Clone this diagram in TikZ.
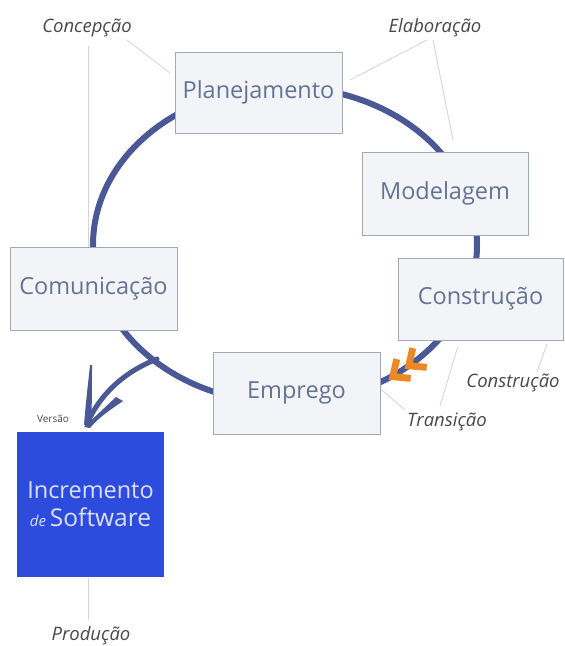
\documentclass[tikz,border=0pt]{standalone}
\usepackage{fontspec}
\setmainfont{Open Sans}
\usetikzlibrary{calc}
\definecolor{loopblue}{RGB}{74,88,150}
\definecolor{boxfill}{RGB}{243,244,247}
\definecolor{boxline}{RGB}{160,168,185}
\definecolor{boxtext}{RGB}{100,114,150}
\definecolor{incrblue}{RGB}{45,76,222}
\definecolor{incrtext}{RGB}{220,224,246}
\definecolor{notegray}{RGB}{72,72,76}
\definecolor{leadgray}{RGB}{212,212,216}
\definecolor{chevron}{RGB}{236,136,38}
\tikzset{
  phasebox/.style={draw=boxline, line width=0.9pt, fill=boxfill, text=boxtext,
    font=\fontsize{23.5}{26}\selectfont, inner sep=0pt},
  note/.style={text=notegray, font=\itshape\fontsize{18.5}{20}\selectfont, inner sep=0pt},
  leader/.style={draw=leadgray, line width=0.8pt},
  loopline/.style={draw=loopblue, line width=6pt},
  feather/.style={fill=chevron},
}
\begin{document}
\begin{tikzpicture}[x=1pt,y=-1pt]
  \fill[white] (0,0) rectangle (565,646);
  \useasboundingbox (0,0) rectangle (565,646);

  % labels of the phases
  \node[note] (concep) at (87,28) {Concepção};
  \node[note] (elab) at (435,28) {Elaboração};
  \node[note] (constrnote) at (513,383) {Construção};
  \node[note] (trans) at (447,422) {Transição};
  \node[note] (prod) at (91,636) {Produção};
  \node[text=notegray, font=\fontsize{10}{11}\selectfont, inner sep=0pt] (versao) at (53,419) {Versão};

  % leader lines
  \coordinate (c1) at (88,46);   \coordinate (c2) at (88,247);
  \coordinate (c3) at (127,40);  \coordinate (c4) at (170,73);
  \coordinate (e1) at (427,40);  \coordinate (e2) at (350,80);
  \coordinate (e3) at (433,40);  \coordinate (e4) at (453,140);
  \coordinate (k1) at (547,344); \coordinate (k2) at (537,372);
  \coordinate (t1) at (458,346); \coordinate (t2) at (440,406);
  \coordinate (t3) at (382,390); \coordinate (t4) at (405,410);
  \coordinate (p1) at (88,578);  \coordinate (p2) at (88,620);
  \draw[leader] (c1) -- (c2);
  \draw[leader] (c3) -- (c4);
  \draw[leader] (e1) -- (e2);
  \draw[leader] (e3) -- (e4);
  \draw[leader] (k1) -- (k2);
  \draw[leader] (t1) -- (t2);
  \draw[leader] (t3) -- (t4);
  \draw[leader] (p1) -- (p2);

  % the cycle
  \draw[loopline] (285,245) ellipse [x radius=192pt, y radius=158pt];

  % release arrow towards the increment
  \coordinate (vstart) at (157,359);
  \coordinate (vtip) at (87,424);
  \draw[draw=loopblue, line width=5pt, line cap=round]
    (vstart) .. controls (124,372) and (100,394) .. (vtip);
  \fill[loopblue] (84,425) .. controls (86,400) and (88,385) .. (90,365)
    -- (92,365) .. controls (92,390) and (92,405) .. (91,423) -- cycle;
  \fill[loopblue] (84,427) -- (116,397) -- (123,401) .. controls (110,410) and (98,418) .. (90,428) -- cycle;

  % phase boxes
  \node[phasebox, minimum width=167pt, minimum height=81pt] (plan) at (258.5,92.5) {Planejamento};
  \node[phasebox, minimum width=166pt, minimum height=83pt] (model) at (445,193.5) {Modelagem};
  \node[phasebox, minimum width=165pt, minimum height=82pt] (constr) at (480.5,299) {Construção};
  \node[phasebox, minimum width=167pt, minimum height=83pt] (comm) at (93.5,288.5) {Comunicação};
  \node[phasebox, minimum width=167pt, minimum height=82pt] (empr) at (296.5,393) {Emprego};

  % increment box
  \node[fill=incrblue, minimum width=147pt, minimum height=145pt, inner sep=0pt,
        text=incrtext, align=center, font=\fontsize{23.5}{28}\selectfont] (incr) at (90.5,504.5)
        {Incremento\\{\itshape\fontsize{15}{16}\selectfont de}\,{\fontsize{24.5}{28}\selectfont Software}};

  % feathers on the way into Emprego
  \foreach \fx/\fy in {391/378, 407/367} {
    \begin{scope}[shift={(\fx,\fy)}]
      \fill[feather] (-2.4,1.8) -- (19.4,3.8) -- (20,-3.1) -- (6,-4.4)
        -- (9.1,-18.1) -- (2.4,-19.7) -- cycle;
    \end{scope}
  }
\end{tikzpicture}
\end{document}
